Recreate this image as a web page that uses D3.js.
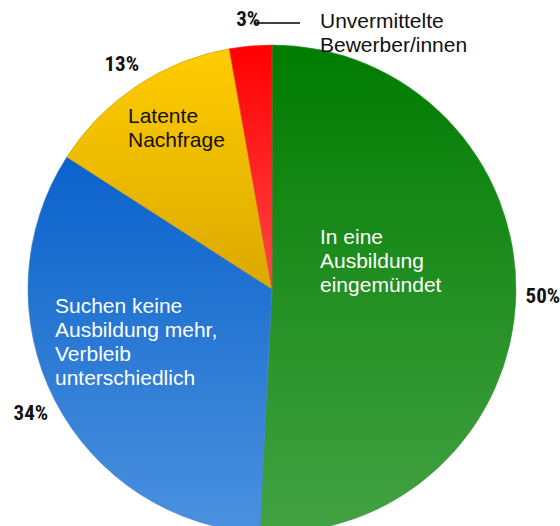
<!DOCTYPE html>
<html>
<head>
<meta charset="utf-8">
<script src="https://cdn.jsdelivr.net/npm/d3@7"></script>
<style>
  body { margin: 0; background: #fff; }
  svg { display: block; }
</style>
</head>
<body>
<svg id="chart"></svg>
<script>
let w = 560;
let h = 526;

// slice order: clockwise from 12 o'clock
let categories = ["In eine Ausbildung eingemündet", "Suchen keine Ausbildung mehr, Verbleib unterschiedlich", "Latente Nachfrage", "Unvermittelte Bewerber/innen"];
let values = [50.8, 33.3, 13.1, 2.8];
let pctLabels = ["50%", "34%", "13%", "3%"];
let nameLines = [
    ["In eine", "Ausbildung", "eingemündet"],
    ["Suchen keine", "Ausbildung mehr,", "Verbleib", "unterschiedlich"],
    ["Latente", "Nachfrage"],
    ["Unvermittelte", "Bewerber/innen"]
];
let topColors = ["#007c00", "#0a62cb", "#ffcc00", "#ff0000"];
let bottomColors = ["#43a243", "#4b91de", "#dba900", "#ff4646"];
let nameColors = ["#fff", "#fff", "#111", "#111"];

let cx = 272, cy = 289, r = 244;

let chart = d3.select("#chart")
    .attr("width", w)
    .attr("height", h);

let defs = chart.append("defs");
categories.forEach((c, i) => {
    let g = defs.append("linearGradient")
        .attr("id", "grad" + i)
        .attr("x1", 0).attr("y1", 0)
        .attr("x2", 0).attr("y2", 1);
    g.append("stop").attr("offset", "0%").attr("stop-color", topColors[i]);
    g.append("stop").attr("offset", "100%").attr("stop-color", bottomColors[i]);
});

let pie = d3.pie().sort(null).value(d => d);
let arcs = pie(values);
let arc = d3.arc().innerRadius(0).outerRadius(r);
let labelArc = d3.arc().innerRadius(271).outerRadius(271);

let g = chart.append("g").attr("transform", `translate(${cx},${cy})`);

g.selectAll("path")
    .data(arcs)
    .join("path")
    .attr("d", arc)
    .attr("fill", (d, i) => `url(#grad${i})`)
    .attr("stroke", (d, i) => d3.color(bottomColors[i]).darker(0.3))
    .attr("stroke-width", 0.6);

// percent labels outside
g.selectAll("text.pct")
    .data(arcs)
    .join("text")
    .attr("class", "pct")
    .attr("x", d => labelArc.centroid(d)[0])
    .attr("y", d => labelArc.centroid(d)[1])
    .attr("dy", "0.35em")
    .attr("text-anchor", "middle")
    .style("font-family", "'Roboto Condensed', 'Liberation Sans Narrow', sans-serif")
    .style("font-weight", "bold")
    .style("font-size", "21px")
    .attr("fill", "#111")
    .text((d, i) => pctLabels[i]);

// leader line for the small slice
chart.append("line")
    .attr("x1", 255).attr("y1", 23)
    .attr("x2", 300).attr("y2", 23)
    .attr("stroke", "#000")
    .attr("stroke-width", 1.5);

// category names
let namePos = [[320, 244], [55, 313], [128, 123], [320, 28]];
nameLines.forEach((lines, i) => {
    let t = chart.append("text")
        .attr("x", namePos[i][0])
        .attr("y", namePos[i][1])
        .style("font-family", "'Liberation Sans', sans-serif")
        .style("font-size", "21px")
        .attr("fill", nameColors[i]);
    t.selectAll("tspan")
        .data(lines)
        .join("tspan")
        .attr("x", namePos[i][0])
        .attr("dy", (d, j) => j === 0 ? 0 : 24)
        .text(d => d);
});
</script>
</body>
</html>
